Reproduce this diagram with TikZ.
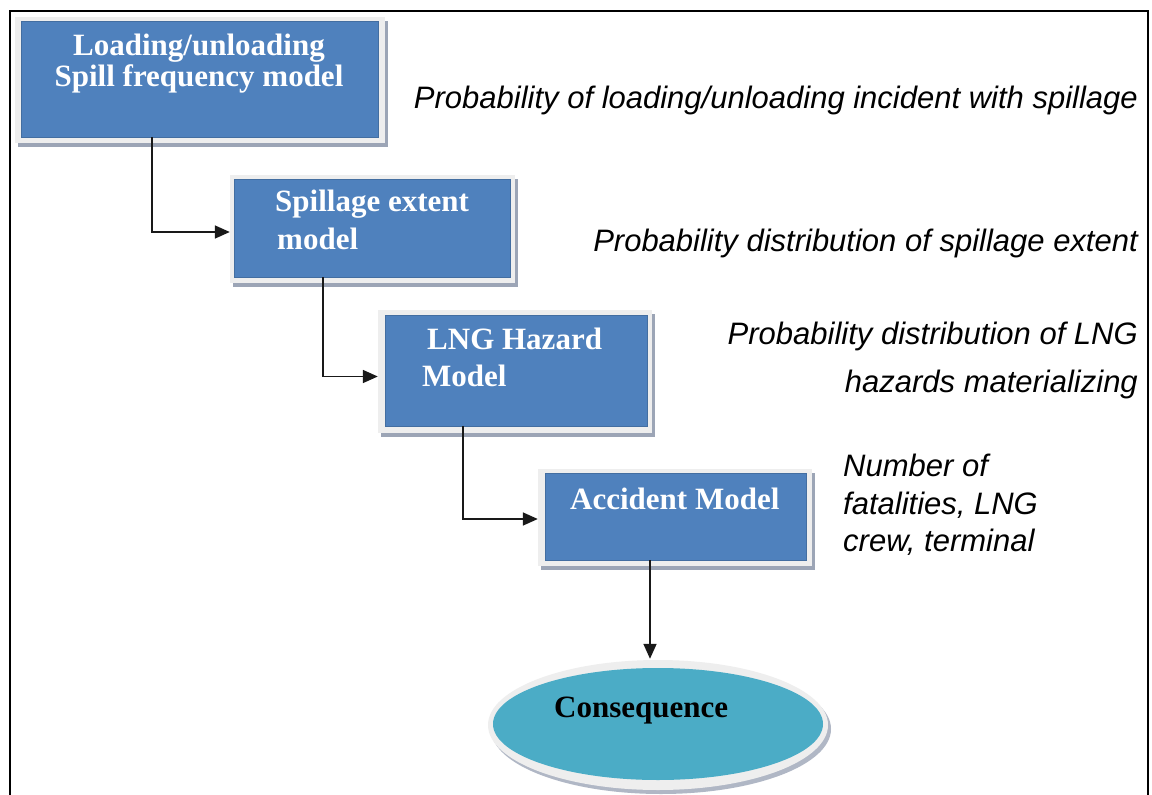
\documentclass[tikz,border=0pt]{standalone}
\usepackage{fontspec}
\setmainfont{Liberation Serif}
\setsansfont{Liberation Sans}
\usetikzlibrary{arrows.meta,shapes.geometric,shadows}
\definecolor{boxblue}{HTML}{4F81BD}
\definecolor{ovalblue}{HTML}{4BACC6}
\definecolor{rimgrey}{HTML}{EEEEEE}
\definecolor{shadegrey}{HTML}{9CA5B6}
\tikzset{
  frame/.style={draw=none, fill=rimgrey, inner sep=0pt,
    drop shadow={shadow xshift=3pt, shadow yshift=-3.5pt, fill=shadegrey, opacity=1}},
  bluebox/.style={draw=boxblue!85!black, line width=0.4pt, fill=boxblue, inner sep=0pt},
  boxtext/.style={inner sep=0pt, text=white, font=\bfseries\fontsize{31}{33}\selectfont},
  note/.style={inner sep=0pt, text=black, font=\sffamily\itshape\fontsize{31}{37}\selectfont},
  link/.style={line width=1.7pt, draw=black!90, -{Triangle[length=15pt,width=13pt]}}
}
\begin{document}
\begin{tikzpicture}[x=1pt,y=-1pt]
\useasboundingbox (0,0) rectangle (1152,795);
\fill[white] (0,0) rectangle (1152,795);

% outer frame, open at the bottom
\draw[line width=2.4pt, black] (10,800) -- (10,11) -- (1148,11) -- (1148,800);

% model boxes
\node[frame, minimum width=370pt, minimum height=126pt] (f1) at (200,80) {};
\node[bluebox, minimum width=357pt, minimum height=116pt] (b1) at (199.5,79) {};
\node[frame, minimum width=285pt, minimum height=108pt] (f2) at (372.5,229) {};
\node[bluebox, minimum width=276pt, minimum height=98pt] (b2) at (372,228) {};
\node[frame, minimum width=274pt, minimum height=123pt] (f3) at (515,371.5) {};
\node[bluebox, minimum width=262pt, minimum height=111pt] (b3) at (516,370.5) {};
\node[frame, minimum width=274pt, minimum height=97pt] (f4) at (675,517.5) {};
\node[bluebox, minimum width=261pt, minimum height=87pt] (b4) at (675.5,516.5) {};

% consequence oval
\node[ellipse, fill=rimgrey, inner sep=0pt, minimum width=340pt, minimum height=130pt,
  drop shadow={shadow xshift=3pt, shadow yshift=-4pt, fill=shadegrey!80, opacity=1}] (e0) at (658,725) {};
\node[ellipse, fill=ovalblue, inner sep=0pt, minimum width=330pt, minimum height=112pt] (e1) at (658,724) {};

% box labels
\node[boxtext, anchor=base] (t1a) at (199,55) {Loading/unloading};
\node[boxtext, anchor=base] (t1b) at (199,86) {Spill frequency model};
\node[boxtext, anchor=base west] (t2a) at (275,211) {Spillage extent};
\node[boxtext, anchor=base west] (t2b) at (277,249) {model};
\node[boxtext, anchor=base west] (t3a) at (427,349) {LNG Hazard};
\node[boxtext, anchor=base west] (t3b) at (422,386) {Model};
\node[boxtext, anchor=base west] (t4) at (570,509) {Accident Model};
\node[boxtext, text=black, anchor=base west] (t5) at (554,717) {Consequence};

% outputs of each model
\node[note, anchor=base east] (n1) at (1138,108) {Probability of loading/unloading incident with spillage};
\node[note, anchor=base east] (n2) at (1138,251) {Probability distribution of spillage extent};
\node[note, anchor=base east] (n3a) at (1138,344) {Probability distribution of LNG};
\node[note, anchor=base east] (n3b) at (1138,392) {hazards materializing};
\node[note, anchor=base west] (n4a) at (843,476) {Number of};
\node[note, anchor=base west] (n4b) at (843,514) {fatalities, LNG};
\node[note, anchor=base west] (n4c) at (843,551) {crew, terminal};

% connectors
\coordinate (s1) at ([xshift=-47.5pt]b1.south);
\coordinate (s2) at ([xshift=-49pt]b2.south);
\coordinate (s3) at ([xshift=-53pt]b3.south);
\coordinate (s4) at ([xshift=-25.5pt]b4.south);
\draw[link] (s1) |- ([yshift=-3pt]f2.west);
\draw[link] (s2) |- ([yshift=-5pt]f3.west);
\draw[link] (s3) |- ([yshift=-1.5pt]f4.west);
\draw[link] (s4) -- ([yshift=1pt]e0.north -| s4);
\end{tikzpicture}
\end{document}
